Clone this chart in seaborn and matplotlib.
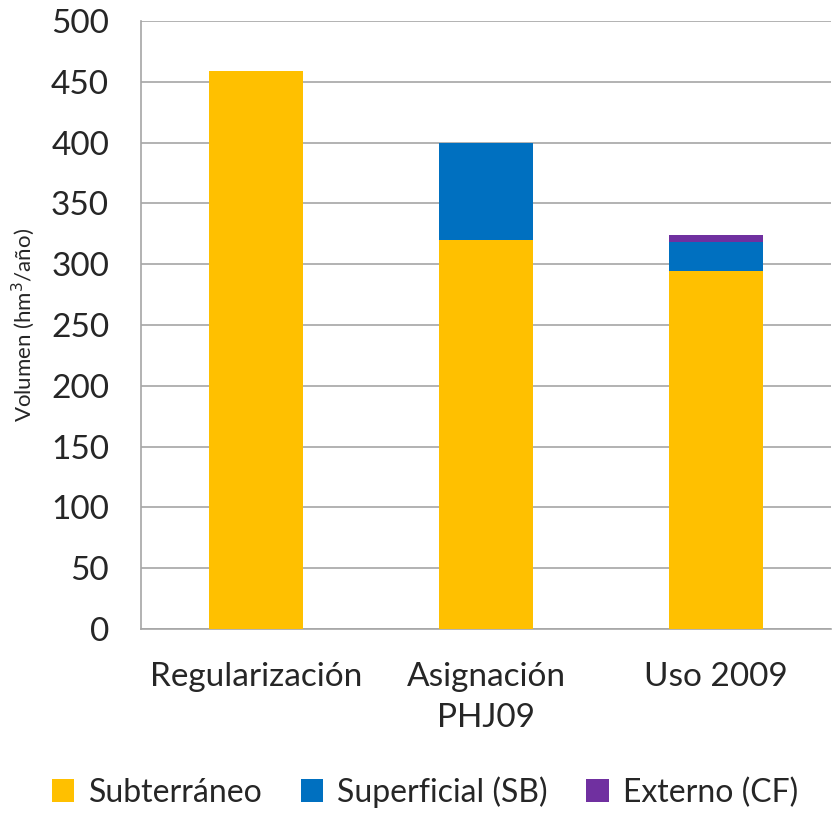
import numpy as np
import pandas as pd
import matplotlib
matplotlib.use("Agg")
import matplotlib.pyplot as plt
import seaborn as sns

categorias = ["Regularización", "Asignación\nPHJ09", "Uso 2009"]
subterraneo = [459, 320, 294]
superficial = [0, 80, 24]
externo = [0, 0, 6]
series = ["Subterráneo", "Superficial (SB)", "Externo (CF)"]
colores = ["#FFC000", "#0070C0", "#7030A0"]

sns.set_style("white")
plt.rcParams['font.family'] = ['Lato', 'DejaVu Sans']

df = pd.DataFrame({"cat": categorias, "sub": subterraneo, "sup": superficial, "ext": externo})
base2 = np.array(subterraneo)
base3 = base2 + np.array(superficial)

fig = plt.figure(figsize=(8.37, 8.14), dpi=100)
ax = fig.add_axes([141/837, 1 - 629/814, 690/837, 608/814])

for col, bottom, c, lab in [("sub", None, colores[0], series[0]),
                            ("sup", base2, colores[1], series[1]),
                            ("ext", base3, colores[2], series[2])]:
    sns.barplot(data=df, x="cat", y=col, color=c, width=0.405, ax=ax,
                saturation=1, bottom=bottom, label=lab, linewidth=0, zorder=3)

ax.set_xlim(-0.5, 2.5)
ax.set_ylim(0, 500)
ax.set_yticks(range(0, 501, 50))
ax.yaxis.grid(True, color="#A6A6A6", linewidth=1.2, zorder=0)
ax.set_axisbelow(True)

ax.set_xlabel("")
ax.set_ylabel("Volumen (hm$^3$/año)", fontsize=16, labelpad=10)
ax.tick_params(axis="y", labelsize=24, length=9, width=1.2, color="#A6A6A6", pad=14)
ax.tick_params(axis="x", which="major", labelsize=24, length=0, pad=24)
for t in ax.get_xticklabels():
    t.set_linespacing(1.45)
ax.set_xticks([-0.5, 0.5, 1.5, 2.5], minor=True)
ax.tick_params(axis="x", which="minor", length=9, width=1.2, color="#A6A6A6")

for s in ["top", "right"]:
    ax.spines[s].set_visible(False)
for s in ["left", "bottom"]:
    ax.spines[s].set_color("#A6A6A6")
    ax.spines[s].set_linewidth(1.2)

ax.legend(loc="center", bbox_to_anchor=((425 - 141) / 690, -163/608), ncol=3, frameon=False,
          fontsize=23, handlelength=0.7, handleheight=0.7, handletextpad=0.45,
          columnspacing=1.2, borderpad=0)

fig.savefig("out.png", dpi=100)
